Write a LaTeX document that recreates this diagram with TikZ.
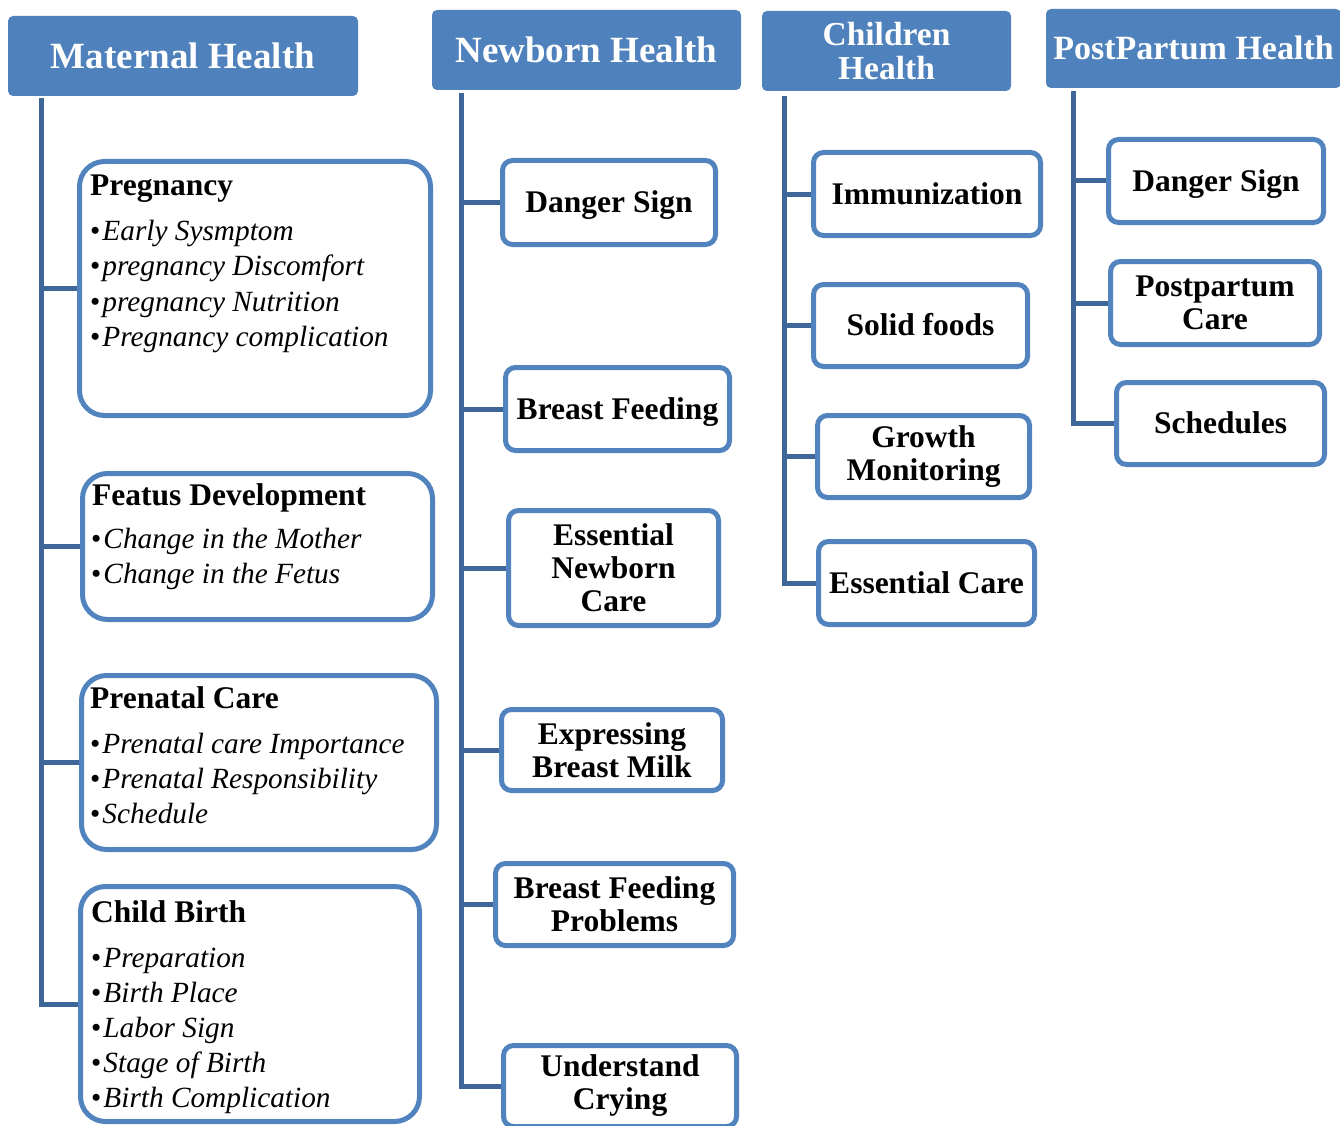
\documentclass[tikz,border=0pt]{standalone}
\usepackage{fontspec}
\setmainfont{Liberation Serif}
\definecolor{hdrblue}{HTML}{4F81BD}
\definecolor{boxblue}{HTML}{5183BF}
\definecolor{linkblue}{HTML}{3F6698}
\begin{document}
\begin{tikzpicture}[x=1pt,y=-1pt,
  hdr/.style={fill=hdrblue, rounded corners=5pt, text=white, inner sep=0pt, align=center},
  hdrbig/.style={hdr, font=\bfseries\fontsize{37}{40}\selectfont, text height=24.4pt, text depth=0pt},
  leaf/.style={draw=boxblue, line width=5pt, fill=white, rounded corners=10pt, inner sep=0pt, align=center, font=\bfseries\fontsize{31.5}{33}\selectfont},
  leafone/.style={leaf, text height=20.8pt, text depth=0pt},
  mbox/.style={draw=boxblue, line width=5pt, fill=white, rounded corners=25pt, inner sep=0pt},
  conn/.style={draw=linkblue, line width=5pt},
  ttl/.style={font=\bfseries\fontsize{31.5}{33}\selectfont, inner sep=0pt, anchor=base west},
  itm/.style={font=\fontsize{29.3}{31}\selectfont, inner sep=0pt, anchor=base west}]
\useasboundingbox (0,0) rectangle (1340,1126);

% headers
\node[hdrbig, minimum width=350pt, minimum height=80pt] (hm) at (183,56) {Maternal Health};
\node[hdrbig, minimum width=309pt, minimum height=80pt] (hn) at (586.5,50) {Newborn Health};
\node[hdr, font=\bfseries\fontsize{33.5}{34}\selectfont, minimum width=249pt, minimum height=80pt] (hc) at (886.5,51) {Children\\Health};
\node[hdr, font=\bfseries\fontsize{34}{36}\selectfont, text height=22.5pt, text depth=0pt, minimum width=295pt, minimum height=79pt] (hp) at (1193.5,48.5) {PostPartum Health};

% trunk starts
\coordinate (tm) at (41,98);
\coordinate (tn) at (461,93);
\coordinate (tc) at (784,96);
\coordinate (tp) at (1073,91);

% maternal boxes
\node[mbox, minimum width=351pt, minimum height=254pt] (mpreg) at (255,288.5) {};
\node[mbox, minimum width=350pt, minimum height=146pt] (mfeat) at (257.5,546.5) {};
\node[mbox, minimum width=355pt, minimum height=174pt] (mpre) at (259,762.5) {};
\node[mbox, minimum width=339pt, minimum height=235pt] (mcb) at (250,1004) {};

\node[ttl] (mpreg-t) at (90,196) {Pregnancy};
\foreach \t [count=\i] in {Early Sysmptom, pregnancy Discomfort, pregnancy Nutrition, Pregnancy complication}
  \node[itm] (mpreg-\i) at (90,{240+35.5*(\i-1)}) {•\kern2pt\textit{\t}};

\node[ttl] (mfeat-t) at (92,505) {Featus Development};
\foreach \t [count=\i] in {Change in the Mother, Change in the Fetus}
  \node[itm] (mfeat-\i) at (91,{548+35.5*(\i-1)}) {•\kern2pt\textit{\t}};

\node[ttl] (mpre-t) at (90,708) {Prenatal Care};
\foreach \t [count=\i] in {Prenatal care Importance, Prenatal Responsibility, Schedule}
  \node[itm] (mpre-\i) at (90,{753+35.3*(\i-1)}) {•\kern2pt\textit{\t}};

\node[ttl] (mcb-t) at (91,922) {Child Birth};
\foreach \t [count=\i] in {Preparation, Birth Place, Labor Sign, Stage of Birth, Birth Complication}
  \node[itm] (mcb-\i) at (91,{967+35*(\i-1)}) {•\kern2pt\textit{\t}};

% newborn leaves
\node[leafone, minimum width=213pt, minimum height=84pt] (nds) at (609,202.5) {Danger Sign};
\node[leafone, minimum width=224pt, minimum height=83pt] (nbf) at (617.5,409) {Breast Feeding};
\node[leaf, minimum width=210pt, minimum height=115pt] (nenc) at (613.5,568) {Essential\\Newborn\\Care};
\node[leaf, minimum width=221pt, minimum height=81pt] (nebm) at (612,750) {Expressing\\Breast Milk};
\node[leaf, minimum width=238pt, minimum height=82pt] (nbfp) at (614.5,904.5) {Breast Feeding\\Problems};
\node[leaf, minimum width=233pt, minimum height=81pt] (nuc) at (620,1086) {Understand\\Crying};

% children leaves
\node[leafone, minimum width=227pt, minimum height=83pt] (cimm) at (927,194) {Immunization};
\node[leafone, minimum width=214pt, minimum height=82pt] (csf) at (920.5,325.5) {Solid foods};
\node[leaf, minimum width=212pt, minimum height=82pt] (cgm) at (923.5,456.5) {Growth\\Monitoring};
\node[leafone, minimum width=216pt, minimum height=83pt] (cec) at (926.5,583) {Essential Care};

% postpartum leaves
\node[leafone, minimum width=215pt, minimum height=83pt] (pds) at (1216,181) {Danger Sign};
\node[leaf, minimum width=209pt, minimum height=83pt] (ppc) at (1215,303) {Postpartum\\Care};
\node[leafone, minimum width=208pt, minimum height=82pt] (psch) at (1220.5,423.5) {Schedules};

% connectors
\draw[conn] (tm) |- (mcb.west);
\foreach \n in {mpreg, mfeat, mpre} \draw[conn] (tm |- \n.west) -- (\n.west);
\draw[conn] (tn) |- (nuc.west);
\foreach \n in {nds, nbf, nenc, nebm, nbfp} \draw[conn] (tn |- \n.west) -- (\n.west);
\draw[conn] (tc) |- (cec.west);
\foreach \n in {cimm, csf, cgm} \draw[conn] (tc |- \n.west) -- (\n.west);
\draw[conn] (tp) |- (psch.west);
\foreach \n in {pds, ppc} \draw[conn] (tp |- \n.west) -- (\n.west);
\end{tikzpicture}
\end{document}
